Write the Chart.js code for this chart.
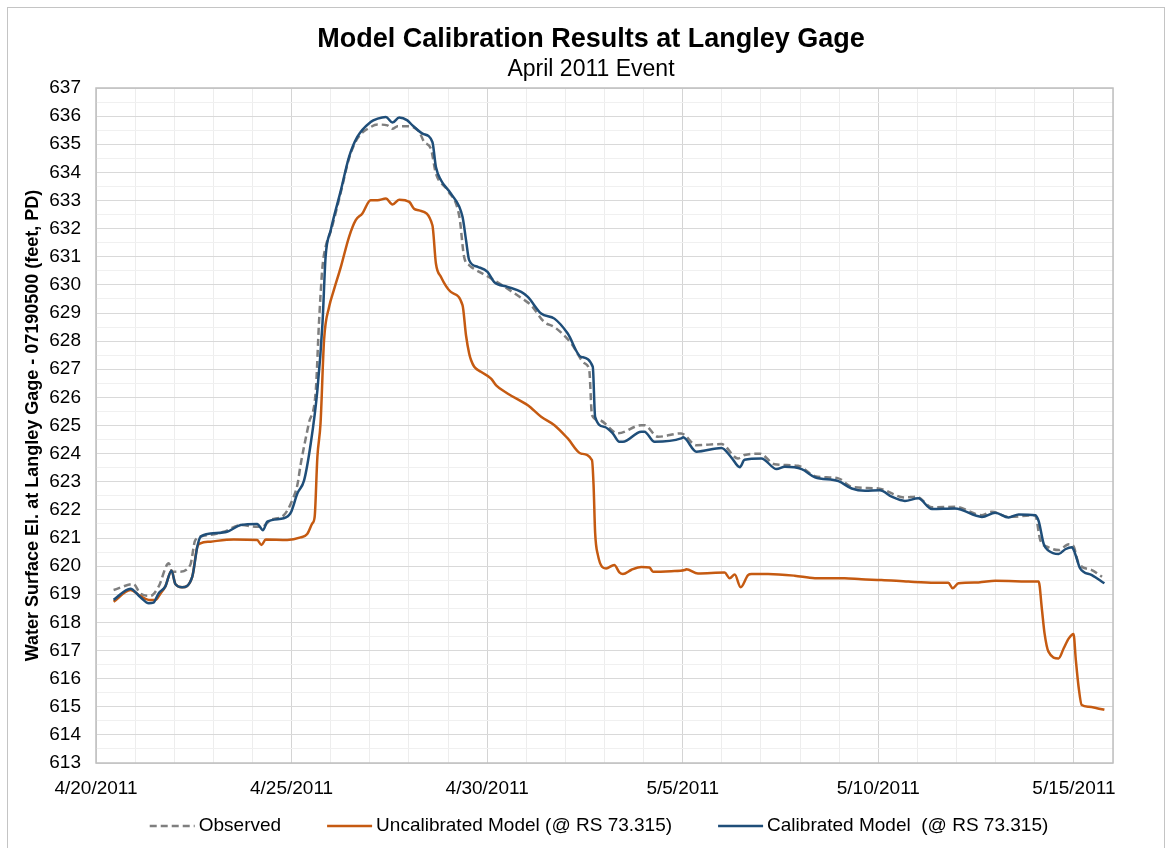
<!DOCTYPE html>
<html>
<head>
<meta charset="utf-8">
<title>Model Calibration Results at Langley Gage</title>
<script src="https://cdn.jsdelivr.net/npm/chart.js@4.4.1/dist/chart.umd.min.js"></script>
<style>
  html, body { margin: 0; padding: 0; background: #fff; }
  #wrap { position: relative; width: 1171px; height: 848px; overflow: hidden; }
  #frame { position: absolute; left: 7px; top: 7px; width: 1156px; height: 860px; border: 1px solid #c4c4c4; pointer-events: none; }
  canvas { position: absolute; left: 0; top: 0; }
</style>
</head>
<body>
<div id="wrap">
  <canvas id="chart" width="1171" height="848"></canvas>
  <div id="frame"></div>
</div>
<script>
// days after 4/20/2011 00:00 and water surface elevation (feet, PD)
const obsDays = [0.45,0.96,1.13,1.39,1.60,1.86,1.95,2.12,2.41,2.54,2.84,3.27,3.70,4.12,4.25,4.46,4.80,5.02,5.15,5.23,5.44,5.62,5.70,5.79,5.87,6.00,6.26,6.47,6.68,7.02,7.20,7.45,7.58,7.71,7.96,8.26,8.39,8.56,8.69,8.99,9.29,9.41,9.54,9.59,10.10,10.95,11.12,11.46,11.72,12.15,12.49,12.61,12.68,12.87,13.34,13.94,14.02,14.37,14.96,15.35,15.99,16.41,16.58,16.97,17.35,17.95,18.38,18.98,19.32,20.00,20.68,20.98,21.37,21.96,22.65,22.90,23.33,24.01,24.14,24.35,24.61,24.87,24.99,25.12,25.46,25.72];
const obsElev = [619.15,619.36,619.03,618.94,619.27,620.10,619.80,619.80,620.04,620.93,621.10,621.22,621.46,621.40,621.40,621.64,621.81,622.35,622.90,623.60,625.07,626.26,628.63,630.64,631.35,631.90,633.30,634.50,635.20,635.61,635.70,635.67,635.55,635.64,635.64,635.45,635.08,634.85,633.96,633.36,632.42,631.00,630.70,630.64,630.23,629.46,629.28,628.68,628.50,627.92,627.21,626.97,625.37,625.19,624.72,625.01,625.01,624.60,624.72,624.30,624.34,623.83,623.95,624.00,623.62,623.57,623.20,623.12,622.82,622.76,622.44,622.47,622.09,622.11,621.81,621.93,621.75,621.81,620.93,620.67,620.57,620.78,620.71,620.10,619.86,619.62];

const uncDays = [0.45,0.88,1.13,1.35,1.52,1.65,1.77,1.93,2.03,2.20,2.46,2.59,2.67,2.93,3.52,4.12,4.23,4.34,4.89,5.23,5.40,5.53,5.59,5.66,5.74,5.83,5.96,6.08,6.26,6.47,6.64,6.81,7.02,7.20,7.41,7.58,7.75,8.01,8.13,8.26,8.60,8.69,8.82,9.07,9.37,9.46,9.54,9.59,9.67,9.84,10.10,10.23,10.52,11.04,11.38,11.72,12.06,12.40,12.68,12.72,12.76,12.83,13.04,13.25,13.38,13.47,13.69,13.94,14.15,14.24,14.71,15.05,15.09,15.39,16.07,16.20,16.33,16.48,16.67,16.76,17.18,17.86,18.38,19.14,19.57,20.08,20.77,21.45,21.79,21.90,22.05,22.56,22.99,24.01,24.10,24.18,24.25,24.35,24.61,24.74,24.87,24.99,25.05,25.12,25.20,25.38,25.59,25.78];
const uncElev = [618.73,619.15,618.94,618.80,618.80,619.03,619.27,619.84,619.36,619.25,619.62,620.69,620.81,620.87,620.95,620.93,620.75,620.95,620.93,621.02,621.14,621.52,621.75,623.89,625.07,628.03,629.22,629.81,630.64,631.71,632.30,632.54,633.01,633.01,633.07,632.86,633.03,632.95,632.71,632.65,632.12,630.76,630.28,629.75,629.28,628.20,627.56,627.32,627.09,626.91,626.67,626.43,626.14,625.72,625.31,625.01,624.54,624.00,623.77,622.90,621.20,620.40,619.92,620.04,619.78,619.72,619.87,619.97,619.95,619.80,619.82,619.86,619.89,619.74,619.77,619.57,619.70,619.25,619.68,619.72,619.72,619.66,619.57,619.57,619.53,619.51,619.45,619.41,619.41,619.21,619.39,619.42,619.48,619.45,619.45,618.50,617.61,616.96,616.72,617.08,617.43,617.59,616.66,615.71,615.06,615.00,614.95,614.89];

const calDays = [0.45,0.88,1.13,1.35,1.47,1.60,1.77,1.93,2.03,2.20,2.46,2.59,2.67,2.93,3.35,3.70,4.12,4.27,4.38,4.80,4.98,5.15,5.32,5.49,5.66,5.79,5.87,6.00,6.26,6.47,6.68,7.02,7.20,7.41,7.58,7.75,7.96,8.09,8.35,8.60,8.69,8.82,9.07,9.37,9.46,9.54,9.76,10.01,10.18,10.52,10.87,11.04,11.38,11.72,12.06,12.40,12.70,12.76,13.00,13.21,13.38,13.47,13.94,14.02,14.28,14.96,15.01,15.35,15.99,16.24,16.46,16.58,17.01,17.40,17.61,18.04,18.38,18.98,19.32,19.66,20.04,20.34,20.68,21.02,21.37,21.96,22.65,22.99,23.33,23.59,24.01,24.10,24.23,24.35,24.61,24.78,24.95,25.03,25.16,25.46,25.78];
const calElev = [618.80,619.20,618.90,618.68,618.70,619.03,619.27,619.84,619.36,619.25,619.62,620.69,621.04,621.16,621.22,621.46,621.50,621.28,621.58,621.70,621.90,622.59,623.05,624.36,626.26,628.63,631.00,631.94,633.36,634.55,635.26,635.79,635.91,635.97,635.77,635.95,635.85,635.67,635.38,635.08,634.19,633.72,633.25,632.42,631.59,630.88,630.64,630.46,630.10,629.93,629.75,629.57,628.98,628.80,628.27,627.44,627.09,625.31,624.95,624.72,624.42,624.42,624.78,624.78,624.42,624.54,624.58,624.07,624.20,623.87,623.52,623.78,623.83,623.45,623.53,623.45,623.16,623.02,622.76,622.68,622.70,622.47,622.32,622.41,622.03,622.05,621.75,621.90,621.73,621.84,621.81,621.60,620.78,620.55,620.43,620.60,620.67,620.45,619.92,619.68,619.39];

const seriesNames = ['Observed', 'Uncalibrated Model (@ RS 73.315)', 'Calibrated Model  (@ RS 73.315)'];
const yMin = 613, yMax = 637;
const dayMax = 26;

const FONT = '"Liberation Sans", Arial, sans-serif';
Chart.defaults.font.family = FONT;
Chart.defaults.color = '#000';

function toPoints(xs, ys) {
    return xs.map((x, i) => ({ x: x, y: ys[i] }));
}

function dayLabel(d) {
    const dt = new Date(2011, 3, 20 + d);
    return (dt.getMonth() + 1) + '/' + dt.getDate() + '/' + dt.getFullYear();
}

// grey frame round the plot area
const plotFrame = {
    id: 'plotFrame',
    beforeDatasetsDraw(chart) {
        const a = chart.chartArea;
        const ctx = chart.ctx;
        ctx.save();
        ctx.strokeStyle = '#bfbfbf';
        ctx.lineWidth = 1.5;
        ctx.strokeRect(a.left, a.top, a.right - a.left, a.bottom - a.top);
        ctx.restore();
    }
};

// one row legend under the axis, like the Excel one
const legendRow = {
    id: 'legendRow',
    afterDraw(chart) {
        const ctx = chart.ctx;
        const sets = chart.data.datasets;
        ctx.save();
        ctx.font = '19px ' + FONT;
        const lineLen = 45, gap = 4, between = 46;
        const widths = sets.map(ds => lineLen + gap + ctx.measureText(ds.label).width);
        const total = widths.reduce((a, b) => a + b, 0) + between * (sets.length - 1);
        let x = 599 - total / 2;
        const y = 826;
        sets.forEach((ds, i) => {
            ctx.beginPath();
            ctx.setLineDash(ds.borderDash || []);
            ctx.strokeStyle = ds.borderColor;
            ctx.lineWidth = ds.borderWidth;
            ctx.moveTo(x, y);
            ctx.lineTo(x + lineLen, y);
            ctx.stroke();
            ctx.setLineDash([]);
            ctx.fillStyle = '#000';
            ctx.textAlign = 'left';
            ctx.textBaseline = 'middle';
            ctx.fillText(ds.label, x + lineLen + gap, y);
            x += widths[i] + between;
        });
        ctx.restore();
    }
};

new Chart(document.getElementById('chart').getContext('2d'), {
    type: 'line',
    data: {
        datasets: [{
            label: seriesNames[0],
            data: toPoints(obsDays, obsElev),
            borderColor: '#7f7f7f',
            borderWidth: 2.5,
            borderDash: [7, 4],
            order: 3
        }, {
            label: seriesNames[1],
            data: toPoints(uncDays, uncElev),
            borderColor: '#c55a11',
            borderWidth: 2.5,
            order: 2
        }, {
            label: seriesNames[2],
            data: toPoints(calDays, calElev),
            borderColor: '#1f4e79',
            borderWidth: 2.5,
            order: 1
        }]
    },
    options: {
        responsive: false,
        animation: false,
        events: [],
        elements: {
            point: { radius: 0 },
            line: { cubicInterpolationMode: 'monotone', fill: false }
        },
        layout: { padding: { top: 11, left: 20, right: 9, bottom: 45 } },
        plugins: {
            legend: { display: false },
            tooltip: { enabled: false },
            title: {
                display: true,
                text: 'Model Calibration Results at Langley Gage',
                color: '#000',
                font: { size: 27, weight: 'bold' },
                padding: { top: 12, bottom: 0 }
            },
            subtitle: {
                display: true,
                text: 'April 2011 Event',
                color: '#000',
                font: { size: 23 },
                padding: { top: 0, bottom: 5 }
            }
        },
        scales: {
            x: {
                type: 'linear',
                min: 0,
                max: dayMax,
                afterFit: s => { s.height = 40; },
                border: { display: false },
                grid: {
                    drawTicks: false,
                    color: c => (c.tick && c.tick.value % 5 === 0) ? '#d4d4d4' : '#ededed'
                },
                ticks: {
                    stepSize: 1,
                    autoSkip: false,
                    maxRotation: 0,
                    minRotation: 0,
                    padding: 14,
                    font: { size: 19 },
                    callback: v => v % 5 === 0 && v < dayMax ? dayLabel(v) : ''
                }
            },
            y: {
                min: yMin,
                max: yMax,
                afterFit: s => { s.width = 76; },
                border: { display: false },
                grid: {
                    drawTicks: false,
                    color: c => (c.tick && Number.isInteger(c.tick.value)) ? '#d9d9d9' : '#f0f0f0'
                },
                ticks: {
                    stepSize: 0.5,
                    autoSkip: false,
                    padding: 15,
                    font: { size: 19 },
                    callback: v => Number.isInteger(v) ? v : ''
                },
                title: {
                    display: true,
                    text: 'Water Surface El. at Langley Gage - 07190500 (feet, PD)',
                    color: '#000',
                    font: { size: 18, weight: 'bold' },
                    padding: { top: 2, bottom: 0 }
                }
            },
            yPad: {
                position: 'right',
                afterFit: s => { s.width = 49; },
                border: { display: false },
                grid: { display: false },
                ticks: { display: false }
            }
        }
    },
    plugins: [plotFrame, legendRow]
});
</script>
</body>
</html>
